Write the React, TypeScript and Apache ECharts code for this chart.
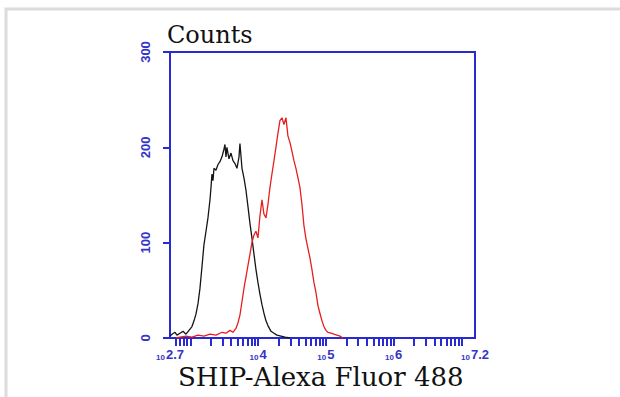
import React, { useEffect, useRef } from 'react';
import * as echarts from 'echarts';

// Fluorescence intensity in decades (log10 units) and counts
const blackX = [2.700, 2.729, 2.774, 2.803, 2.847, 2.892, 2.936, 2.980, 3.024, 3.054, 3.083, 3.113, 3.142, 3.172, 3.201, 3.231, 3.260, 3.290, 3.305, 3.319, 3.334, 3.349, 3.378, 3.408, 3.437, 3.467, 3.496, 3.511, 3.526, 3.540, 3.570, 3.600, 3.629, 3.659, 3.688, 3.718, 3.732, 3.762, 3.791, 3.821, 3.850, 3.880, 3.909, 3.939, 3.968, 3.998, 4.027, 4.057, 4.086, 4.116, 4.145, 4.190, 4.234, 4.278, 4.337, 4.396, 4.470];
const blackY = [2, 4, 6, 3, 5, 7, 4, 8, 12, 18, 25, 36, 52, 75, 98, 112, 126, 145, 158, 172, 165, 178, 176, 182, 185, 190, 198, 203, 190, 200, 188, 194, 186, 183, 178, 190, 204, 178, 168, 155, 138, 120, 105, 88, 72, 58, 46, 35, 26, 18, 13, 7, 5, 3, 2, 1, 0];

const redX = [2.788, 2.847, 2.936, 3.024, 3.113, 3.201, 3.290, 3.378, 3.467, 3.526, 3.585, 3.629, 3.673, 3.703, 3.732, 3.762, 3.791, 3.821, 3.850, 3.880, 3.909, 3.939, 3.968, 3.998, 4.027, 4.057, 4.086, 4.116, 4.145, 4.175, 4.204, 4.234, 4.263, 4.293, 4.322, 4.352, 4.381, 4.411, 4.440, 4.470, 4.499, 4.529, 4.558, 4.588, 4.617, 4.647, 4.676, 4.706, 4.735, 4.765, 4.794, 4.824, 4.853, 4.883, 4.912, 4.942, 4.971, 5.001, 5.030, 5.075, 5.119, 5.163, 5.207, 5.252];
const redY = [0, 1, 2, 1, 3, 2, 4, 3, 6, 5, 8, 6, 10, 16, 24, 38, 52, 64, 76, 88, 100, 108, 112, 105, 128, 145, 130, 126, 140, 158, 172, 186, 200, 215, 228, 231, 224, 231, 212, 205, 196, 186, 178, 168, 158, 140, 118, 104, 94, 84, 72, 58, 48, 34, 26, 18, 12, 8, 6, 5, 4, 3, 2, 0];

const xMin = 2.7;
const xMax = 7.2;
const xLabelValues = [2.7, 4, 5, 6, 7.2];
const xLabelExponents = ['2.7', '4', '5', '6', '7.2'];
const tickDecades = [2, 3, 4, 5, 6, 7];
const tickMultipliers = [1, 2, 3, 4, 5, 6, 7, 8, 9];

const yTicks = [0, 100, 200, 300];
const yLabel = 'Counts';
const xLabel = 'SHIP-Alexa Fluor 488';

const BLUE = '#2a2ad2';
const LABEL_BLUE = '#3434c8';

export default function App() {
  const ref = useRef<HTMLDivElement>(null);
  useEffect(() => {
    const chart = echarts.init(ref.current!, null, { renderer: 'svg' });
    const tickValues: number[] = [];
    tickDecades.forEach((d) => {
      tickMultipliers.forEach((m) => {
        const v = d + Math.log10(m);
        if (v > xMin + 0.005 && v <= xMax) tickValues.push(v);
      });
    });
    const toPairs = (xs: number[], ys: number[]) => xs.map((x, i) => [x, ys[i]]);
    chart.setOption({
      animation: false,
      backgroundColor: '#ffffff',
      grid: {
        left: 170,
        top: 52,
        right: 145,
        bottom: 59,
        show: true,
        borderColor: BLUE,
        borderWidth: 2,
        backgroundColor: 'transparent',
      },
      xAxis: {
        type: 'value',
        min: xMin,
        max: xMax,
        axisLine: { show: true, lineStyle: { color: BLUE, width: 2 } },
        axisTick: {
          show: true,
          customValues: tickValues,
          length: 8,
          lineStyle: { color: BLUE, width: 2 },
        },
        splitLine: { show: false },
        axisLabel: {
          customValues: xLabelValues,
          margin: 10,
          formatter: (v: number) => {
            let idx = 0;
            let best = Infinity;
            xLabelValues.forEach((lv, i) => {
              const d = Math.abs(lv - v);
              if (d < best) { best = d; idx = i; }
            });
            return `{b|10}{e|${xLabelExponents[idx]}}`;
          },
          rich: {
            b: {
              fontSize: 8,
              lineHeight: 8,
              fontWeight: 'bold',
              fontFamily: 'Liberation Sans',
              color: LABEL_BLUE,
              verticalAlign: 'bottom',
              padding: [8, 1, 0, 0],
            },
            e: {
              fontSize: 13,
              lineHeight: 13,
              fontWeight: 'bold',
              fontFamily: 'Liberation Sans',
              color: LABEL_BLUE,
              verticalAlign: 'top',
            },
          },
        },
      },
      yAxis: {
        type: 'value',
        min: 0,
        max: 300,
        interval: 100,
        axisLine: { show: true, lineStyle: { color: BLUE, width: 2 } },
        axisTick: { show: true, length: 7, lineStyle: { color: BLUE, width: 2 } },
        splitLine: { show: false },
        axisLabel: {
          rotate: 90,
          margin: 18,
          fontSize: 13,
          fontWeight: 'bold',
          fontFamily: 'Liberation Sans',
          color: LABEL_BLUE,
          formatter: (v: number) => (yTicks.includes(v) ? String(v) : ''),
        },
      },
      graphic: [
        {
          type: 'polyline',
          shape: { points: [[6, 397], [6, 9], [620, 9]] },
          style: { stroke: '#dcdcdc', lineWidth: 3, fill: 'none' },
        },
        {
          type: 'text',
          x: 167,
          y: 35,
          style: {
            text: yLabel,
            fontFamily: 'DejaVu Serif',
            fontSize: 24,
            fill: '#111111',
            align: 'left',
            verticalAlign: 'middle',
            textAlign: 'left',
            textVerticalAlign: 'middle',
          },
        },
        {
          type: 'text',
          x: 178,
          y: 377,
          style: {
            text: xLabel,
            fontFamily: 'DejaVu Serif',
            fontSize: 26,
            fill: '#111111',
            align: 'left',
            verticalAlign: 'middle',
            textAlign: 'left',
            textVerticalAlign: 'middle',
          },
        },
      ],
      series: [
        {
          type: 'line',
          data: toPairs(blackX, blackY),
          showSymbol: false,
          lineStyle: { color: '#151515', width: 1.3 },
          z: 2,
        },
        {
          type: 'line',
          data: toPairs(redX, redY),
          showSymbol: false,
          lineStyle: { color: '#e61e1e', width: 1.3 },
          z: 3,
        },
      ],
    });
    return () => chart.dispose();
  }, []);
  return (
    <div
      ref={ref}
      style={{ position: 'absolute', left: 0, top: 0, width: 620, height: 397, background: '#fff' }}
    />
  );
}
